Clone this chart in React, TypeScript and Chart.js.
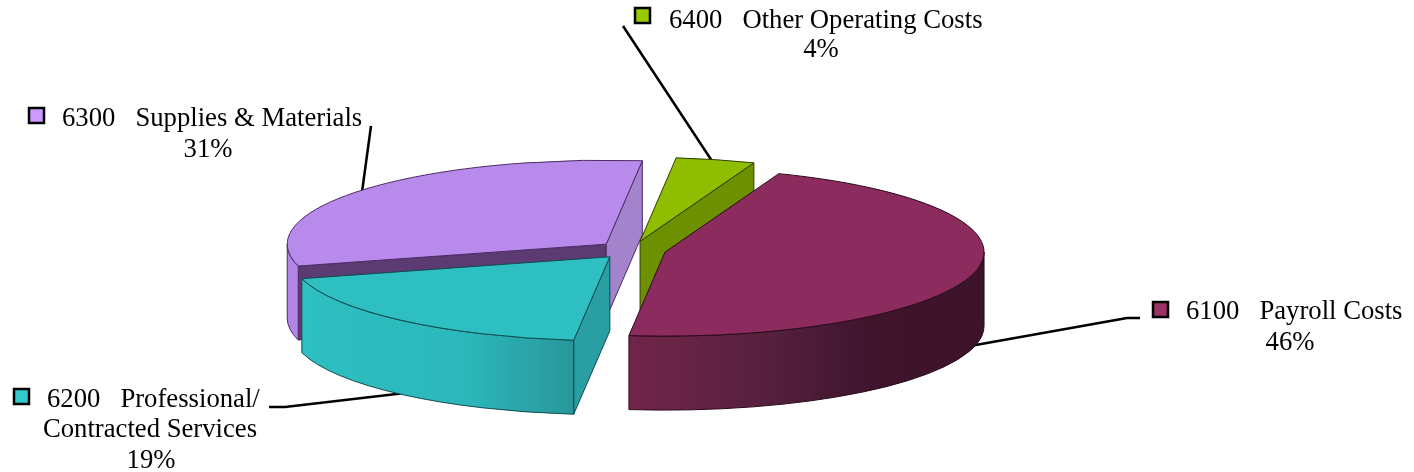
import React, { useEffect, useRef } from "react";
import { Chart, registerables } from "chart.js";

Chart.register(...registerables);

// Operating budget shares by account code
const codes = ["6100", "6200", "6300", "6400"];
const accountLines = [
  ["Payroll Costs"],
  ["Professional/", "Contracted Services"],
  ["Supplies & Materials"],
  ["Other Operating Costs"],
];
const shares = [46, 19, 31, 4];

const topColors = ["#8b2b5e", "#2dbfc1", "#b88aec", "#8fbe00"];
const keyColors = ["#993366", "#33cccc", "#cc99ff", "#99cc00"];
const wallColors = ["#6d2447", "#2a9fa3", "#a383cc", "#6d9000"];
const startWallColors = ["#6d2447", "#2a9fa3", "#5c3a72", "#6d9000"];
const edgeColors = ["#2a0a1c", "#0f4b50", "#4b2a63", "#2e3c00"];
const sideStops = [
  [[0, "#722549"], [0.4, "#55203d"], [0.68, "#3f142c"], [1, "#3d1329"]],
  [[0, "#2dbfc1"], [0.6, "#2cb8ba"], [1, "#28969b"]],
  [[0, "#b285e6"], [1, "#b285e6"]],
  [[0, "#6d9000"], [1, "#6d9000"]],
];

// Painter's order: back slices first, the front slice last
const paintOrder = [2, 3, 0, 1];

const RX = 319;
const RY = 84;
const DEPTH = 74;
const EXPLODE = 34;
const FONT = '26.7px "Liberation Serif"';

// Placement of each key: square, first text line, centred lines
const labelPlacement = [
  { square: [1152, 301], x: 1186, y: 319, lineCenter: 0, percentCenter: 1290, percentY: 350 },
  { square: [13, 388], x: 47, y: 407, lineCenter: 150, percentCenter: 151, percentY: 468 },
  { square: [28, 107], x: 62, y: 126, lineCenter: 0, percentCenter: 208, percentY: 157 },
  { square: [634, 7], x: 669, y: 28, lineCenter: 0, percentCenter: 821, percentY: 57 },
];

const leaders = [
  [[1140, 318], [1127, 318], [970, 346]],
  [[269, 407], [285, 407], [405, 393]],
  [[371, 126], [362, 192]],
  [[623, 26], [712, 161]],
];

function drawLeaders(ctx: CanvasRenderingContext2D) {
  ctx.save();
  ctx.strokeStyle = "#000";
  ctx.lineWidth = 2.5;
  ctx.lineJoin = "round";
  leaders.forEach((pts) => {
    ctx.beginPath();
    pts.forEach(([x, y], i) => (i ? ctx.lineTo(x, y) : ctx.moveTo(x, y)));
    ctx.stroke();
  });
  ctx.restore();
}

function drawKeys(ctx: CanvasRenderingContext2D) {
  ctx.save();
  ctx.font = FONT;
  ctx.textBaseline = "alphabetic";
  codes.forEach((code, i) => {
    const p = labelPlacement[i];
    const [sx, sy] = p.square;
    ctx.fillStyle = keyColors[i];
    ctx.fillRect(sx + 1, sy + 1, 15, 15);
    ctx.strokeStyle = "#000";
    ctx.lineWidth = 2.5;
    ctx.strokeRect(sx + 1, sy + 1, 15, 15);

    ctx.fillStyle = "#000";
    ctx.textAlign = "left";
    const lines = accountLines[i];
    ctx.fillText(`${code}   ${lines[0]}`, p.x, p.y);
    ctx.textAlign = "center";
    lines.slice(1).forEach((line, n) => {
      ctx.fillText(line, p.lineCenter, p.y + 30 * (n + 1));
    });
    ctx.fillText(`${shares[i]}%`, p.percentCenter, p.percentY);
  });
  ctx.restore();
}

// Draws the arcs as an exploded, tilted pie with an extruded rim and cut walls
const extrudedPie = {
  id: "extrudedPie",
  beforeDatasetsDraw(chart: any) {
    const ctx: CanvasRenderingContext2D = chart.ctx;
    const arcs = chart.getDatasetMeta(0).data;
    drawLeaders(ctx);

    paintOrder.forEach((i) => {
      const arc = arcs[i];
      const a1 = arc.startAngle;
      const a2 = arc.endAngle;
      const mid = (a1 + a2) / 2;
      const ox = arc.x + Math.cos(mid) * EXPLODE;
      const oy = arc.y + Math.sin(mid) * EXPLODE * (RY / RX);
      const point = (a: number) => [ox + RX * Math.cos(a), oy + RY * Math.sin(a)];

      ctx.save();
      ctx.lineWidth = 1;
      ctx.lineJoin = "round";
      ctx.strokeStyle = edgeColors[i];

      const wall = (a: number, color: string) => {
        const [ex, ey] = point(a);
        ctx.beginPath();
        ctx.moveTo(ox, oy);
        ctx.lineTo(ex, ey);
        ctx.lineTo(ex, ey + DEPTH);
        ctx.lineTo(ox, oy + DEPTH);
        ctx.closePath();
        ctx.fillStyle = color;
        ctx.fill();
        ctx.stroke();
      };
      if (Math.cos(a1) < 0) wall(a1, startWallColors[i]);
      if (Math.cos(a2) > 0) wall(a2, wallColors[i]);

      const s = Math.max(a1, 0);
      const e = Math.min(a2, Math.PI);
      if (e > s) {
        const gradient = ctx.createLinearGradient(
          ox + RX * Math.cos(e),
          0,
          ox + RX * Math.cos(s),
          0,
        );
        sideStops[i].forEach(([at, color]) =>
          gradient.addColorStop(at as number, color as string),
        );
        ctx.beginPath();
        ctx.ellipse(ox, oy, RX, RY, 0, s, e);
        ctx.ellipse(ox, oy + DEPTH, RX, RY, 0, e, s, true);
        ctx.closePath();
        ctx.fillStyle = gradient;
        ctx.fill();
        ctx.stroke();
      }

      // The slice's top face, drawn by the arc element itself
      ctx.save();
      ctx.translate(ox, oy);
      ctx.scale(1, RY / RX);
      ctx.translate(-arc.x, -arc.y);
      arc.draw(ctx);
      ctx.restore();

      ctx.beginPath();
      ctx.moveTo(ox, oy);
      ctx.ellipse(ox, oy, RX, RY, 0, a1, a2);
      ctx.closePath();
      ctx.stroke();
      ctx.restore();
    });

    drawKeys(ctx);
    return false;
  },
};

export default function App() {
  const ref = useRef<HTMLCanvasElement>(null);

  useEffect(() => {
    if (!ref.current) return;
    const chart = new Chart(ref.current, {
      type: "pie",
      data: {
        labels: codes,
        datasets: [
          {
            data: shares,
            backgroundColor: topColors,
            borderWidth: 0,
            clip: false,
          } as any,
        ],
      },
      options: {
        responsive: false,
        animation: false,
        rotation: 20.9,
        radius: RX,
        layout: { padding: { right: 150, top: 28 } },
        plugins: { legend: { display: false }, tooltip: { enabled: false } },
      },
      plugins: [extrudedPie],
    });
    return () => chart.destroy();
  }, []);

  return (
    <canvas
      ref={ref}
      width={1414}
      height={472}
      style={{ position: "fixed", left: 0, top: 0, width: 1414, height: 472, background: "#fff" }}
    />
  );
}
